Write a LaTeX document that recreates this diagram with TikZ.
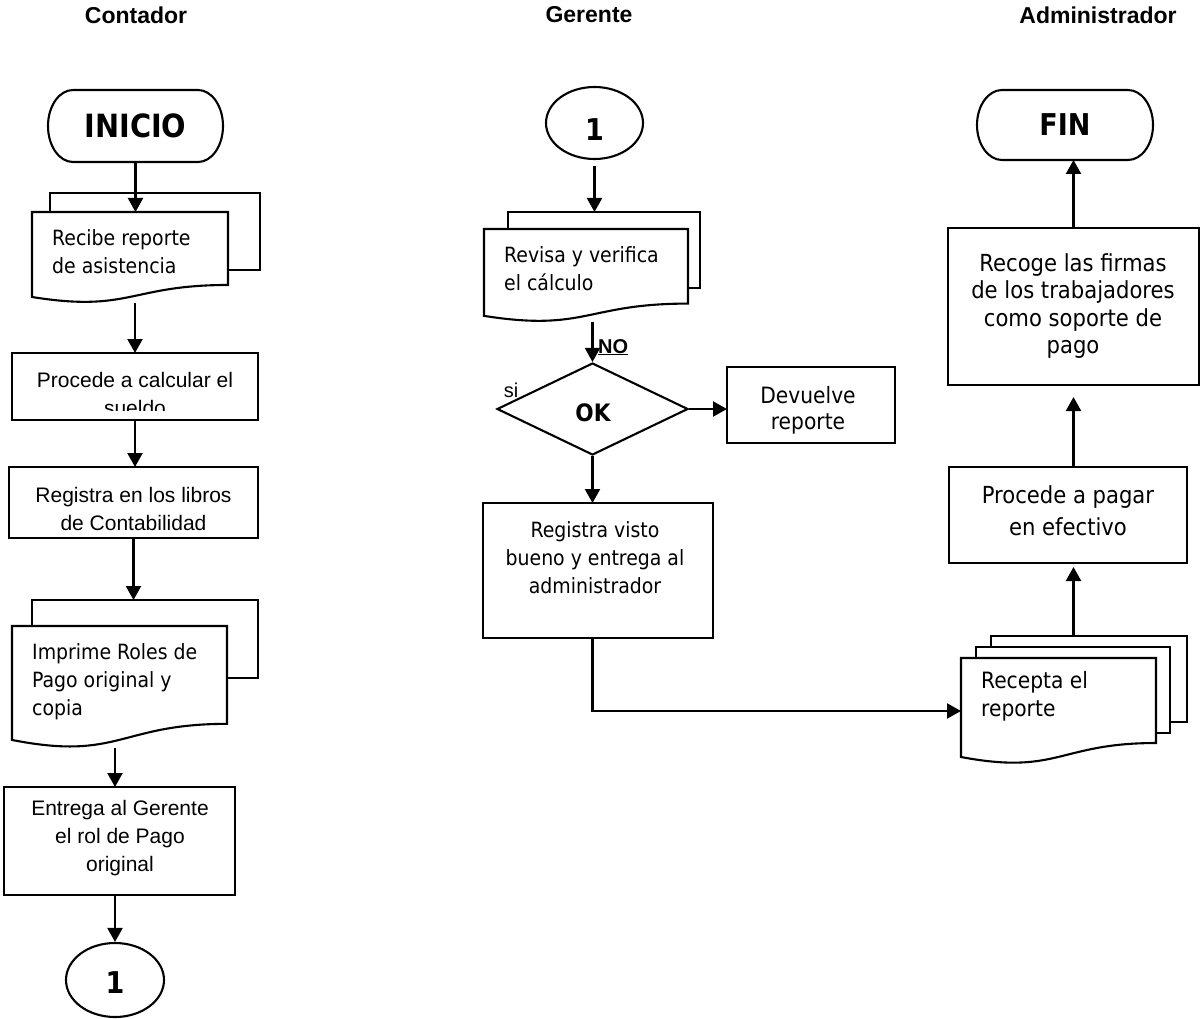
\documentclass[tikz,border=0pt]{standalone}
\usepackage{fontspec}
\setmainfont{Liberation Sans}
\newfontfamily\tah{DejaVu Sans Condensed}
\usetikzlibrary{shapes.geometric,arrows.meta,calc}

% document sheet with a wavy lower edge, drawn over an empty named node
\newcommand\docsheet[1]{%
  \draw[shapeline,fill=white] (#1.north west) -- (#1.north east)
    -- ($(#1.north east)!0.802!(#1.south east)$)
    .. controls ($(#1.north)!0.802!(#1.south)$) and ($(#1.north)!1.1075!(#1.south)$)
    .. ($(#1.north west)!0.934!(#1.south west)$) -- cycle;}

% start/end terminator with elliptic ends (#2 = horizontal radius, #3 = half height)
\newcommand\terminal[3]{%
  \draw[shapeline,fill=white] ($(#1.north west)+(#2,0)$) -- ($(#1.north east)+(-#2,0)$)
    arc[start angle=-90,end angle=90,x radius=#2,y radius=#3]
    -- ($(#1.south west)+(#2,0)$)
    arc[start angle=90,end angle=270,x radius=#2,y radius=#3] -- cycle;}

\begin{document}
\begin{tikzpicture}[x=1pt,y=-1pt,
  shapeline/.style={line width=2.1pt},
  frame/.style={draw=none,inner sep=0pt,outer sep=0pt},
  boxnode/.style={draw,shapeline,fill=white,inner sep=0pt,outer sep=0pt},
  arr/.style={line width=2.2pt,-{Triangle[length=14pt,width=15pt]}},
  head/.style={font=\bfseries\fontsize{23}{27}\selectfont,inner sep=0pt},
  tt/.style={font=\tah\fontsize{21}{28}\selectfont,inner sep=0pt},
  ttbig/.style={font=\tah\fontsize{23.5}{27.5}\selectfont,inner sep=0pt,align=center},
  atext/.style={font=\fontsize{21}{28}\selectfont,inner sep=0pt},
  tleft/.style={tt,align=left,anchor=west},
  tmid/.style={tt,align=center},
  amid/.style={atext,align=center},
  bigb/.style={font=\tah\bfseries\fontsize{32}{34}\selectfont,inner sep=0pt},
  digit/.style={font=\tah\bfseries\fontsize{30}{30}\selectfont,inner sep=0pt},
]
\useasboundingbox (0,0) rectangle (1200,1019);
\fill[white] (0,0) rectangle (1200,1019);

% lane headings
\node[head] (hcont) at (136,15) {Contador};
\node[head] (hger)  at (589,15) {Gerente};
\node[head] (hadm)  at (1098,15) {Administrador};

% ---------------- Contador ----------------
\node[frame,minimum width=175pt,minimum height=72pt,anchor=north west] (inicio) at (48,90) {};
\terminal{inicio}{25}{36}
\node[bigb] (inicio-t) at (inicio.center) {INICIO};

\node[boxnode,minimum width=210pt,minimum height=77pt,anchor=north west] (recibeB) at (50,193) {};
\node[frame,minimum width=196pt,minimum height=91pt,anchor=north west] (recibe) at (32,212) {};
\docsheet{recibe}
\node[tleft] (recibe-t) at (52,252) {Recibe reporte\\de asistencia};

\node[boxnode,minimum width=246pt,minimum height=67pt,anchor=north west] (procede) at (12,353) {};
\begin{scope}
  \clip (14,355) rectangle (256,410);
  \node[amid] (procede-t) at (135,394) {Procede a calcular el\\sueldo};
\end{scope}

\node[boxnode,minimum width=249pt,minimum height=71pt,anchor=north west] (registra) at (9,467) {};
\node[amid] (registra-t) at (133.5,509) {Registra en los libros\\de Contabilidad};

\node[boxnode,minimum width=226pt,minimum height=78pt,anchor=north west] (imprimeB) at (32,600) {};
\node[frame,minimum width=215pt,minimum height=122pt,anchor=north west] (imprime) at (12,626) {};
\docsheet{imprime}
\node[tleft] (imprime-t) at (32,682) {Imprime Roles de\\Pago original y\\copia};

\node[boxnode,minimum width=231pt,minimum height=108pt,anchor=north west] (entrega) at (4,787) {};
\node[amid] (entrega-t) at (120,838) {Entrega al Gerente\\el rol de Pago\\original};

\node[draw,shapeline,ellipse,minimum width=98pt,minimum height=74pt,inner sep=0pt] (c1) at (115,980) {};
\node[digit] (c1-t) at (115,983) {1};

% ---------------- Gerente ----------------
\node[draw,shapeline,ellipse,minimum width=97pt,minimum height=72pt,inner sep=0pt] (c2) at (594.5,123) {};
\node[digit] (c2-t) at (594.5,130) {1};

\node[boxnode,minimum width=192pt,minimum height=76pt,anchor=north west] (revisaB) at (508,212) {};
\node[frame,minimum width=204pt,minimum height=93pt,anchor=north west] (revisa) at (484,229) {};
\docsheet{revisa}
\node[tleft] (revisa-t) at (504,269) {Revisa y verifica\\el cálculo};

\node[draw,shapeline,diamond,minimum width=191pt,minimum height=92pt,inner sep=0pt] (ok) at (592.5,409) {};
\node[font=\tah\bfseries\fontsize{24}{26}\selectfont,inner sep=0pt] (ok-t) at (593,413) {OK};
\node[font=\bfseries\fontsize{20}{22}\selectfont,inner sep=0pt,anchor=base west] (no) at (598,353) {\underline{NO}};
\node[atext,font=\fontsize{20}{22}\selectfont,anchor=base] (si) at (511,397) {si};

\node[boxnode,minimum width=168pt,minimum height=76pt,anchor=north west] (devuelve) at (727,367) {};
\node[tmid,font=\tah\fontsize{22.5}{26}\selectfont] (devuelve-t) at (808,410) {Devuelve\\reporte};

\node[boxnode,minimum width=230pt,minimum height=135pt,anchor=north west] (visto) at (483,503) {};
\node[tmid] (visto-t) at (595,558) {Registra visto\\bueno y entrega al\\administrador};

% ---------------- Administrador ----------------
\node[frame,minimum width=176pt,minimum height=70pt,anchor=north west] (fin) at (977,90) {};
\terminal{fin}{25}{35}
\node[bigb,font=\tah\bfseries\fontsize{30}{32}\selectfont] (fin-t) at (fin.center) {FIN};

\node[boxnode,minimum width=251pt,minimum height=157pt,anchor=north west] (recoge) at (948,228) {};
\node[ttbig] (recoge-t) at (1073,306) {Recoge las firmas\\de los trabajadores\\como soporte de\\pago};

\node[boxnode,minimum width=238pt,minimum height=96pt,anchor=north west] (pagar) at (949,467) {};
\node[ttbig,font=\tah\fontsize{23.5}{32}\selectfont] (pagar-t) at (1068,511) {Procede a pagar\\en efectivo};

\node[boxnode,minimum width=196pt,minimum height=86pt,anchor=north west] (recB3) at (991,636) {};
\node[boxnode,minimum width=194pt,minimum height=86pt,anchor=north west] (recB2) at (976,647) {};
\node[frame,minimum width=195pt,minimum height=106pt,anchor=north west] (recepta) at (961,658) {};
\docsheet{recepta}
\node[tleft,font=\tah\fontsize{22.5}{28}\selectfont] (recepta-t) at (981,696) {Recepta el\\reporte};

% ---------------- connectors ----------------
\draw[arr] (inicio.south) -- (inicio.south |- recibe.north);
\draw[arr] (recibe.south -| procede.north) -- (procede.north);
\draw[arr] (procede.south) -- (procede.south |- registra.north);
\draw[arr] (registra.south) -- (registra.south |- imprimeB.north);
\draw[arr] (c1.north |- imprime.south) -- (c1.north |- entrega.north);
\draw[arr] (c1.north |- entrega.south) -- (c1.north);

\draw[arr,shorten <=6pt] (c2.south) -- (c2.south |- revisaB.north);
\draw[arr] (ok.north |- revisa.south) -- (ok.north);
\draw[arr] (ok.east) -- (ok.east -| devuelve.west);
\draw[arr] (ok.south) -- (ok.south |- visto.north);
\draw[arr] (ok.south |- visto.south) |- (recepta.west);

\draw[arr,shorten >=4pt] (recoge.south |- recB3.north) -- (recoge.south |- pagar.south);
\draw[arr,shorten >=12pt] (recoge.south |- pagar.north) -- (recoge.south);
\draw[arr] (recoge.north) -- (recoge.north |- fin.south);
\end{tikzpicture}
\end{document}
